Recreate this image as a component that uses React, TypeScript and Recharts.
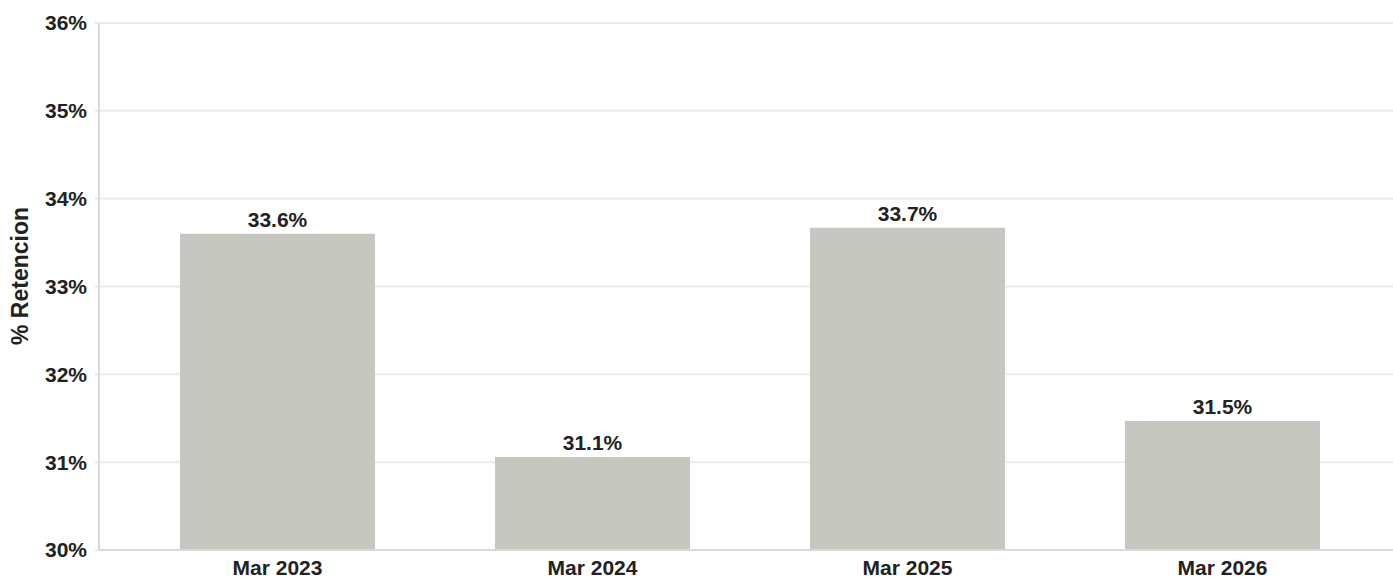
import { BarChart, Bar, XAxis, YAxis, CartesianGrid, LabelList } from "recharts";

const periods = ["Mar 2023", "Mar 2024", "Mar 2025", "Mar 2026"];
const retention = [33.6, 31.06, 33.67, 31.47];
const yTicks = [30, 31, 32, 33, 34, 35, 36];

const data = periods.map((p, i) => ({ period: p, value: retention[i] }));

const font = "'Liberation Sans', Arial, sans-serif";
const textColor = "#222222";

const YLabel = () => (
  <text
    x={20}
    y={276}
    transform="rotate(-90 20 276)"
    textAnchor="middle"
    dominantBaseline="central"
    fill={textColor}
    fontFamily={font}
    fontWeight="bold"
    fontSize={23}
  >
    % Retencion
  </text>
);

export default function App() {
  return (
    <div style={{ position: "absolute", left: 0, top: 0, background: "#fff" }}>
      <BarChart
        width={1393}
        height={578}
        data={data}
        margin={{ top: 23, right: 0, bottom: 0, left: 0 }}
      >
        <CartesianGrid vertical={false} stroke="#ececec" strokeWidth={2} />
        <XAxis
          dataKey="period"
          height={28}
          padding={{ left: 21, right: 13 }}
          axisLine={{ stroke: "#d9d9d9", strokeWidth: 2 }}
          tickLine={false}
          tickSize={0}
          tickMargin={10}
          tick={{ fill: textColor, fontFamily: font, fontWeight: "bold", fontSize: 21 }}
          interval={0}
        />
        <YAxis
          width={99}
          domain={[30, 36]}
          ticks={yTicks}
          interval={0}
          tickFormatter={(v: number) => `${v}%`}
          axisLine={{ stroke: "#d9d9d9", strokeWidth: 2 }}
          tickLine={{ stroke: "#d9d9d9" }}
          tickSize={4}
          tickMargin={8}
          tick={{ fill: textColor, fontFamily: font, fontWeight: "bold", fontSize: 21 }}
          label={<YLabel />}
        />
        <Bar dataKey="value" fill="#c6c7c1" barSize={195} isAnimationActive={false}>
          <LabelList
            dataKey="value"
            position="top"
            offset={7}
            formatter={(v: number) => `${v.toFixed(1)}%`}
            style={{ fill: textColor, fontFamily: font, fontWeight: "bold", fontSize: 21 }}
          />
        </Bar>
      </BarChart>
    </div>
  );
}
